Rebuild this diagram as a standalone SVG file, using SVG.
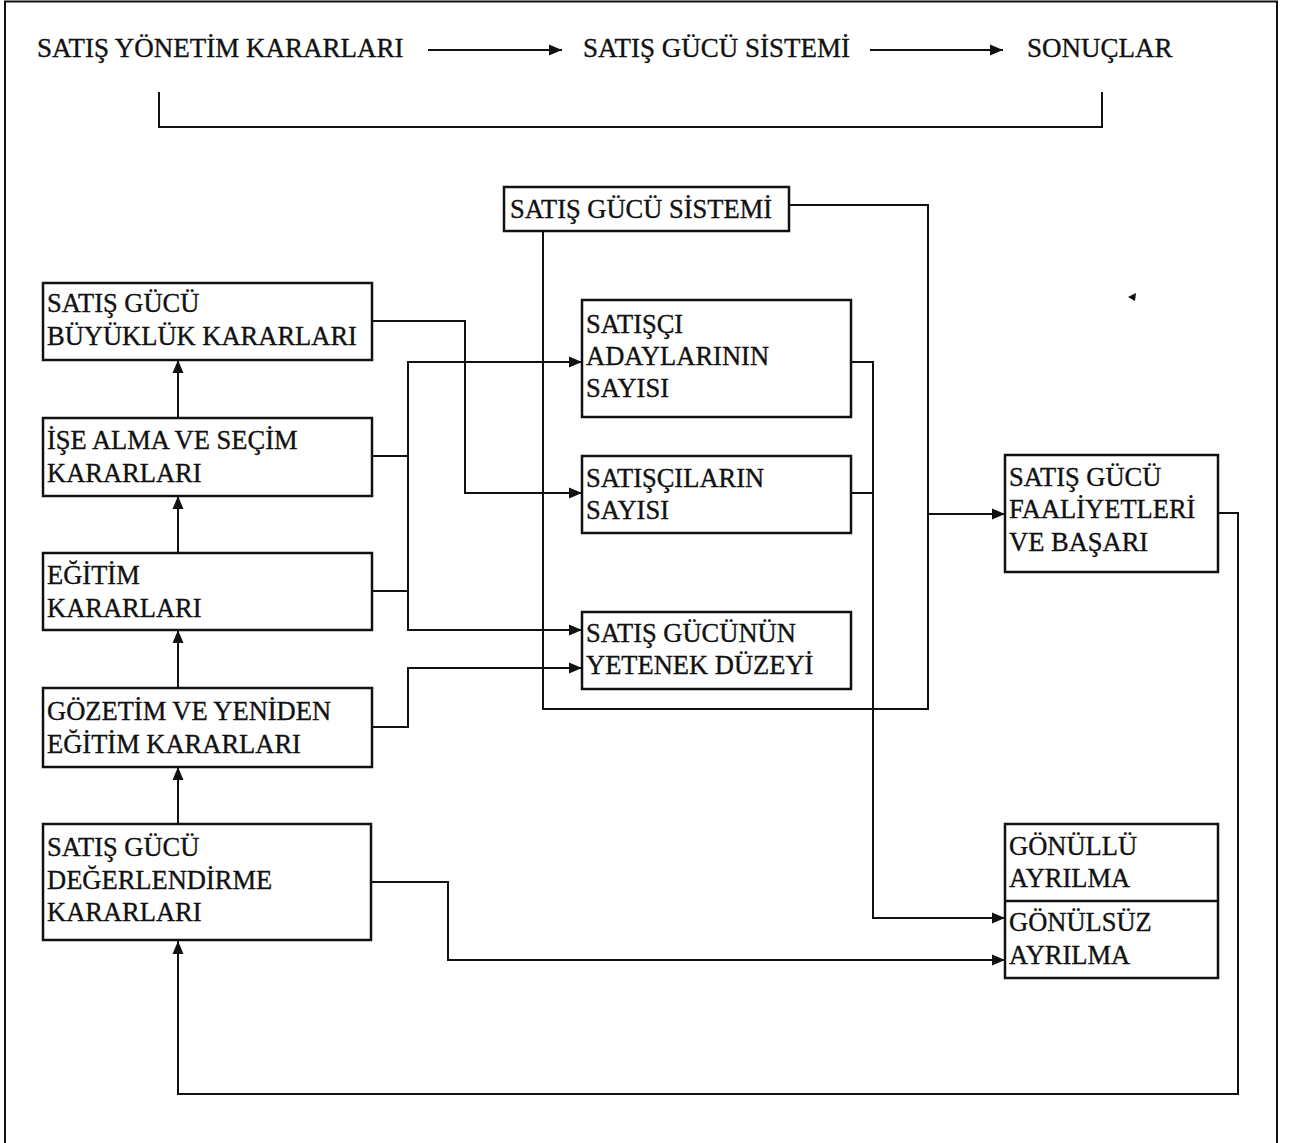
<svg xmlns="http://www.w3.org/2000/svg" width="1291" height="1143" viewBox="0 0 1291 1143">
<defs>
<style>
.t{font-family:"Liberation Serif","Times New Roman",serif;font-size:26.5px;fill:#111;stroke:#111;stroke-width:0.35}
.tt{font-size:27px}
.box{fill:#fff;stroke:#111;stroke-width:2.5}
.ln{fill:none;stroke:#111;stroke-width:2}
.ar{fill:none;stroke:#111;stroke-width:2;marker-end:url(#ah)}
</style>
<marker id="ah" markerUnits="userSpaceOnUse" markerWidth="15" markerHeight="12" refX="13" refY="6" orient="auto">
<path d="M0,0.5 L13,6 L0,11.5 z" fill="#111"/>
</marker>
</defs>
<rect width="1291" height="1143" fill="#fff"/>
<g id="frame"><path class="ln" d="M5,1143 V1.5 H1277 V1143"/></g>

<g id="top">
<text class="t tt" x="37" y="57">SATIŞ YÖNETİM KARARLARI</text>
<text class="t tt" x="583" y="57">SATIŞ GÜCÜ SİSTEMİ</text>
<text class="t tt" x="1027" y="57">SONUÇLAR</text>
</g>

<g id="connectors">
<path class="ar" d="M428,50 H562"/>
<path class="ar" d="M870,50 H1003"/>
<path class="ln" d="M159,92 V127 H1102 V92"/>
<path class="ln" d="M789,205 H928 V709 H543 V231"/>
<path class="ar" d="M928,514 H1005"/>
<path class="ar" d="M178,418 V360"/>
<path class="ar" d="M178,553 V496"/>
<path class="ar" d="M178,688 V630"/>
<path class="ar" d="M178,824 V767"/>
<path class="ar" d="M372,321 H465 V493 H582"/>
<path class="ln" d="M372,456 H408"/>
<path class="ln" d="M372,591 H408"/>
<path class="ar" d="M408,630 V362 H582"/>
<path class="ar" d="M408,600 V630 H582"/>
<path class="ar" d="M372,727 H408 V668 H582"/>
<path class="ar" d="M851,362 H873 V918 H1005"/>
<path class="ln" d="M851,493 H873"/>
<path class="ar" d="M1218,513 H1238 V1094 H178 V941"/>
<path class="ar" d="M372,882 H448 V960 H1005"/>
</g>

<g id="n-sistem">
<rect class="box" x="504" y="187" width="285" height="44"/>
<text class="t" x="510" y="218">SATIŞ GÜCÜ SİSTEMİ</text>
</g>

<g id="n-buyukluk">
<rect class="box" x="43" y="283" width="329" height="77"/>
<text class="t" x="47" y="312">SATIŞ GÜCÜ</text>
<text class="t" x="47" y="345">BÜYÜKLÜK KARARLARI</text>
</g>
<g id="n-ise-alma">
<rect class="box" x="43" y="418" width="329" height="78"/>
<text class="t" x="47" y="449">İŞE ALMA VE SEÇİM</text>
<text class="t" x="47" y="482">KARARLARI</text>
</g>
<g id="n-egitim">
<rect class="box" x="43" y="553" width="329" height="77"/>
<text class="t" x="47" y="584">EĞİTİM</text>
<text class="t" x="47" y="617">KARARLARI</text>
</g>
<g id="n-gozetim">
<rect class="box" x="43" y="688" width="329" height="79"/>
<text class="t" x="47" y="720">GÖZETİM VE YENİDEN</text>
<text class="t" x="47" y="753">EĞİTİM KARARLARI</text>
</g>
<g id="n-degerlendirme">
<rect class="box" x="43" y="824" width="328" height="116"/>
<text class="t" x="47" y="856">SATIŞ GÜCÜ</text>
<text class="t" x="47" y="889">DEĞERLENDİRME</text>
<text class="t" x="47" y="921">KARARLARI</text>
</g>

<g id="n-adaylar">
<rect class="box" x="582" y="300" width="269" height="117"/>
<text class="t" x="586" y="333">SATIŞÇI</text>
<text class="t" x="586" y="365">ADAYLARININ</text>
<text class="t" x="586" y="397">SAYISI</text>
</g>
<g id="n-satiscilar">
<rect class="box" x="582" y="456" width="269" height="77"/>
<text class="t" x="586" y="487">SATIŞÇILARIN</text>
<text class="t" x="586" y="519">SAYISI</text>
</g>
<g id="n-yetenek">
<rect class="box" x="582" y="612" width="269" height="77"/>
<text class="t" x="586" y="642">SATIŞ GÜCÜNÜN</text>
<text class="t" x="586" y="674">YETENEK DÜZEYİ</text>
</g>

<g id="n-faaliyet">
<rect class="box" x="1005" y="455" width="213" height="117"/>
<text class="t" x="1009" y="486">SATIŞ GÜCÜ</text>
<text class="t" x="1009" y="518">FAALİYETLERİ</text>
<text class="t" x="1009" y="551">VE BAŞARI</text>
</g>

<g id="n-ayrilma">
<rect class="box" x="1005" y="824" width="213" height="154"/>
<line class="ln" x1="1005" y1="901" x2="1218" y2="901" style="stroke-width:2.5"/>
<text class="t" x="1009" y="855">GÖNÜLLÜ</text>
<text class="t" x="1009" y="887">AYRILMA</text>
<text class="t" x="1009" y="931">GÖNÜLSÜZ</text>
<text class="t" x="1009" y="964">AYRILMA</text>
</g>

<path d="M1128,297 L1136,293 L1135,301 z" fill="#111"/>
</svg>
